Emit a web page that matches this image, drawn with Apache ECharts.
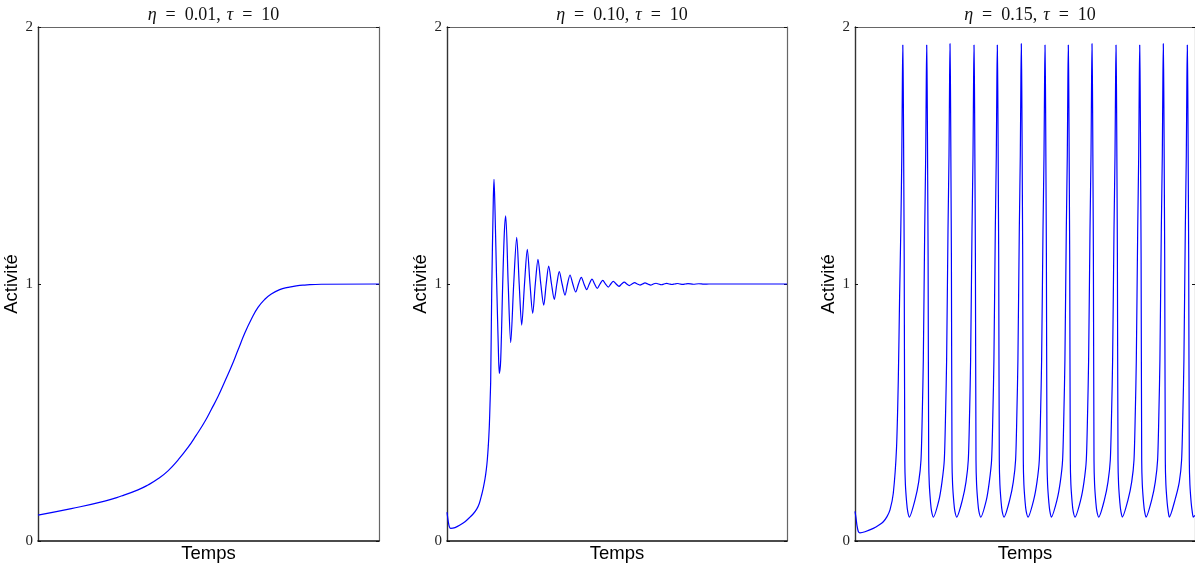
<!DOCTYPE html>
<html><head><meta charset="utf-8">
<script src="https://cdn.jsdelivr.net/npm/echarts@6/dist/echarts.min.js"></script>
<style>html,body{margin:0;padding:0;background:#fff}#c{width:1195px;height:568px}</style>
</head><body><div id="c"></div><script>
// ---- data ----
const etaLabels = ['0.01', '0.10', '0.15'];
const tauLabels = ['10', '10', '10'];
const yTicks = [0, 1, 2];
const xLabel = 'Temps';
const yLabel = 'Activité';

// panel 1 : eta = 0.01
const timeA = [0, 33.3, 66.7, 83.3, 100, 110, 120, 130, 140, 150, 158.3, 166.7, 173.3, 180, 186.7, 193.3, 200, 206.7, 213.3, 220, 226.7, 233.3, 241.7, 250, 258.3, 266.7, 283.3, 341];
const actA = [0.101, 0.126, 0.155, 0.175, 0.199, 0.218, 0.242, 0.273, 0.315, 0.364, 0.412, 0.464, 0.512, 0.562, 0.620, 0.678, 0.743, 0.808, 0.863, 0.909, 0.940, 0.961, 0.978, 0.987, 0.993, 0.996, 0.999, 1.0];

// panel 2 : eta = 0.10
const timeB = [0, 1.3, 2.3, 3.7, 8, 13, 18, 23, 26.3, 29.7, 32.3, 34.7, 36.3, 38, 39.3, 40.3, 41.3, 42.3, 43, 43.7, 44.7, 46.3, 47, 48, 49.7, 51.3, 52.3, 53.7, 55.7, 57.3, 58.7, 61.2, 63.7, 66.7, 69.7, 72.2, 74.7, 77.5, 80.3, 83, 85.7, 88.3, 91, 93.8, 96.7, 99.2, 101.7, 104.5, 107.3, 109.8, 112.3, 115.1, 118, 120.5, 123, 125.8, 128.7, 131.5, 134.3, 137, 139.7, 142.3, 145, 147.6, 150.3, 153, 155.7, 158.5, 161.3, 163.8, 166.3, 169.1, 172, 174.6, 177.3, 179.8, 182.3, 185, 187.7, 190.3, 193, 195.5, 198, 200.8, 203.7, 206.3, 209, 211.6, 214.3, 217, 219.7, 222.3, 225, 227.6, 230.3, 233, 235.7, 238.3, 241, 246.3, 251.7, 257, 262, 340];
const actB = [0.112, 0.075, 0.056, 0.049, 0.052, 0.062, 0.075, 0.093, 0.106, 0.124, 0.146, 0.18, 0.207, 0.242, 0.278, 0.315, 0.37, 0.445, 0.53, 0.626, 0.964, 1.327, 1.407, 1.288, 1.0, 0.756, 0.652, 0.704, 1.0, 1.197, 1.265, 1.0, 0.772, 1.0, 1.182, 1.0, 0.840, 1.0, 1.135, 1.0, 0.886, 1.0, 1.096, 1.0, 0.918, 1.0, 1.070, 1.0, 0.940, 1.0, 1.048, 1.0, 0.957, 1.0, 1.035, 1.0, 0.969, 1.0, 1.026, 1.0, 0.978, 1.0, 1.019, 1.0, 0.983, 1.0, 1.014, 1.0, 0.988, 1.0, 1.010, 1.0, 0.991, 1.0, 1.007, 1.0, 0.994, 1.0, 1.005, 1.0, 0.996, 1.0, 1.004, 1.0, 0.996, 1.0, 1.003, 1.0, 0.997, 1.0, 1.0025, 1.0, 0.998, 1.0, 1.002, 1.0, 0.9985, 1.0, 1.0015, 0.999, 1.001, 0.9993, 1.0, 1.0];

// panel 3 : eta = 0.15
const timeC = [0, 1, 2, 3.3, 5, 10, 18.3, 24, 28.3, 32, 35, 38.3, 41.5, 43.3, 44.6, 45.8, 46.8, 47.4, 47.8, 48.3, 48.8, 49.2, 49.8, 50.4, 51.7, 52.7,
  54.3, 60, 63.7, 66, 67.3, 68.3, 69.7, 70.7, 71.3, 71.7, 72.2, 72.7, 73.1, 73.7, 74.3, 75.6, 76.6,
  78.3, 84, 87, 89.3, 90.6, 91.6, 93, 94, 94.6, 95, 95.5, 96, 96.4, 97, 97.6, 98.9, 99.9,
  101.7, 107.4, 111, 113.3, 114.6, 115.6, 117, 118, 118.6, 119, 119.5, 120, 120.4, 121, 121.6, 122.9, 123.9,
  125.7, 131.4, 134.3, 136.6, 137.9, 138.9, 140.3, 141.3, 141.9, 142.3, 142.8, 143.3, 143.7, 144.3, 144.9, 146.2, 147.2,
  149, 154.7, 158.3, 160.6, 161.9, 162.9, 164.3, 165.3, 165.9, 166.3, 166.8, 167.3, 167.7, 168.3, 168.9, 170.2, 171.2,
  173, 178.7, 182, 184.3, 185.6, 186.6, 188, 189, 189.6, 190, 190.5, 191, 191.4, 192, 192.6, 193.9, 194.9,
  196.3, 202, 205.3, 207.6, 208.9, 209.9, 211.3, 212.3, 212.9, 213.3, 213.8, 214.3, 214.7, 215.3, 215.9, 217.2, 218.2,
  220, 225.7, 229, 231.3, 232.6, 233.6, 235, 236, 236.6, 237, 237.5, 238, 238.4, 239, 239.6, 240.9, 241.9,
  243.7, 249.4, 253, 255.3, 256.6, 257.6, 259, 260, 260.6, 261, 261.5, 262, 262.4, 263, 263.6, 264.9, 265.9,
  267.3, 273, 276.7, 279, 280.3, 281.3, 282.7, 283.7, 284.3, 284.7, 285.2, 285.7, 286.1, 286.7, 287.3, 288.6, 289.6,
  291, 296.7, 300.3, 302.6, 303.9, 304.9, 306.3, 307.3, 307.9, 308.3, 308.8, 309.3, 309.7, 310.3, 310.9, 312.2, 313.2,
  314.3, 320, 324.3, 326.6, 327.9, 328.9, 330.3, 331.3, 331.9, 332.3, 332.8, 333.3, 333.7, 334.3, 334.9, 336.2, 337.2,
  338.3, 340];
const actC = [0.115, 0.09, 0.06, 0.037, 0.032, 0.036, 0.049, 0.062, 0.075, 0.095, 0.121, 0.186, 0.36, 0.626, 0.95, 1.21, 1.5, 1.8, 1.93, 1.75, 1.4, 1.1, 0.315, 0.22, 0.148, 0.115,
  0.093, 0.16, 0.23, 0.315, 0.50, 0.70, 1.21, 1.5, 1.8, 1.93, 1.75, 1.4, 1.1, 0.315, 0.22, 0.148, 0.115,
  0.093, 0.16, 0.23, 0.315, 0.50, 0.70, 1.21, 1.5, 1.8, 1.935, 1.75, 1.4, 1.1, 0.315, 0.22, 0.148, 0.115,
  0.093, 0.16, 0.23, 0.315, 0.50, 0.70, 1.21, 1.5, 1.8, 1.93, 1.75, 1.4, 1.1, 0.315, 0.22, 0.148, 0.115,
  0.093, 0.16, 0.23, 0.315, 0.50, 0.70, 1.21, 1.5, 1.8, 1.93, 1.75, 1.4, 1.1, 0.315, 0.22, 0.148, 0.115,
  0.093, 0.16, 0.23, 0.315, 0.50, 0.70, 1.21, 1.5, 1.8, 1.935, 1.75, 1.4, 1.1, 0.315, 0.22, 0.148, 0.115,
  0.093, 0.16, 0.23, 0.315, 0.50, 0.70, 1.21, 1.5, 1.8, 1.93, 1.75, 1.4, 1.1, 0.315, 0.22, 0.148, 0.115,
  0.093, 0.16, 0.23, 0.315, 0.50, 0.70, 1.21, 1.5, 1.8, 1.93, 1.75, 1.4, 1.1, 0.315, 0.22, 0.148, 0.115,
  0.093, 0.16, 0.23, 0.315, 0.50, 0.70, 1.21, 1.5, 1.8, 1.935, 1.75, 1.4, 1.1, 0.315, 0.22, 0.148, 0.115,
  0.093, 0.16, 0.23, 0.315, 0.50, 0.70, 1.21, 1.5, 1.8, 1.93, 1.75, 1.4, 1.1, 0.315, 0.22, 0.148, 0.115,
  0.093, 0.16, 0.23, 0.315, 0.50, 0.70, 1.21, 1.5, 1.8, 1.93, 1.75, 1.4, 1.1, 0.315, 0.22, 0.148, 0.115,
  0.093, 0.16, 0.23, 0.315, 0.50, 0.70, 1.21, 1.5, 1.8, 1.935, 1.75, 1.4, 1.1, 0.315, 0.22, 0.148, 0.115,
  0.093, 0.16, 0.23, 0.315, 0.50, 0.70, 1.21, 1.5, 1.8, 1.93, 1.75, 1.4, 1.1, 0.315, 0.22, 0.148, 0.115,
  0.093, 0.10];

// ---- chart construction ----
const panels = [
  { t: timeA, v: actA, left: 38, width: 341, xmax: 341, smooth: 0.5 },
  { t: timeB, v: actB, left: 447, width: 340, xmax: 340, smooth: 0.3 },
  { t: timeC, v: actC, left: 855, width: 340, xmax: 340, smooth: 0.25 }
];
const TOP = 27, HEIGHT = 514;
const serif = '"Liberation Serif", "DejaVu Serif", serif';
const sans = '"Liberation Sans", Arial, sans-serif';
const EQ = '\u2002=\u2002';
const CS = ',\u2004';

const option = { animation: false, backgroundColor: '#fff', title: [], grid: [], xAxis: [], yAxis: [], series: [] };

panels.forEach((p, i) => {
  option.grid.push({ left: p.left, top: TOP, width: p.width, height: HEIGHT, containLabel: false });
  option.title.push({
    text: '{i|η}' + EQ + etaLabels[i] + CS + '{i|τ}' + EQ + tauLabels[i],
    left: p.left + p.width / 2, top: 1, textAlign: 'center',
    textStyle: { fontFamily: serif, fontSize: 18, fontWeight: 'normal', color: '#111',
      rich: { i: { fontFamily: serif, fontStyle: 'italic', fontSize: 18, color: '#111' } } }
  });
  // bottom x axis
  option.xAxis.push({
    type: 'value', gridIndex: i, min: 0, max: p.xmax, position: 'bottom',
    name: xLabel, nameLocation: 'middle', nameGap: 3,
    nameTextStyle: { fontFamily: sans, fontSize: 18.5, color: '#000', verticalAlign: 'top' },
    axisLine: { show: true, onZero: false, lineStyle: { color: '#111', width: 1.6 } },
    axisTick: { show: false }, axisLabel: { show: false }, splitLine: { show: false }
  });
  // top x axis (frame)
  option.xAxis.push({
    type: 'value', gridIndex: i, min: 0, max: p.xmax, position: 'top',
    axisLine: { show: true, onZero: false, lineStyle: { color: '#666', width: 1.2 } },
    axisTick: { show: false }, axisLabel: { show: false }, splitLine: { show: false }
  });
  // left y axis
  option.yAxis.push({
    type: 'value', gridIndex: i, min: yTicks[0], max: yTicks[yTicks.length - 1], interval: 1, position: 'left',
    name: yLabel, nameLocation: 'middle', nameGap: 13, nameRotate: 90,
    nameTextStyle: { fontFamily: sans, fontSize: 18.5, color: '#000' },
    axisLine: { show: true, onZero: false, lineStyle: { color: '#333', width: 1.4 } },
    axisTick: { show: true, inside: true, length: 3, lineStyle: { color: '#111', width: 1 } },
    axisLabel: { show: true, margin: 5, fontFamily: serif, fontSize: 15, color: '#222' },
    splitLine: { show: false }
  });
  // right y axis (frame)
  option.yAxis.push({
    type: 'value', gridIndex: i, min: yTicks[0], max: yTicks[yTicks.length - 1], interval: 1, position: 'right',
    axisLine: { show: true, onZero: false, lineStyle: { color: '#666', width: 1.2 } },
    axisTick: { show: true, inside: true, length: 3, lineStyle: { color: '#111', width: 1 } },
    axisLabel: { show: false }, splitLine: { show: false }
  });
  option.series.push({
    type: 'line', xAxisIndex: 2 * i, yAxisIndex: 2 * i,
    data: p.t.map((x, k) => [x, p.v[k]]),
    showSymbol: false, symbol: 'none', smooth: p.smooth, clip: true,
    lineStyle: { color: '#0000ff', width: 1.2 }
  });
});

const chart = echarts.init(document.getElementById('c'), null, { renderer: 'canvas' });
chart.setOption(option);
</script></body></html>
